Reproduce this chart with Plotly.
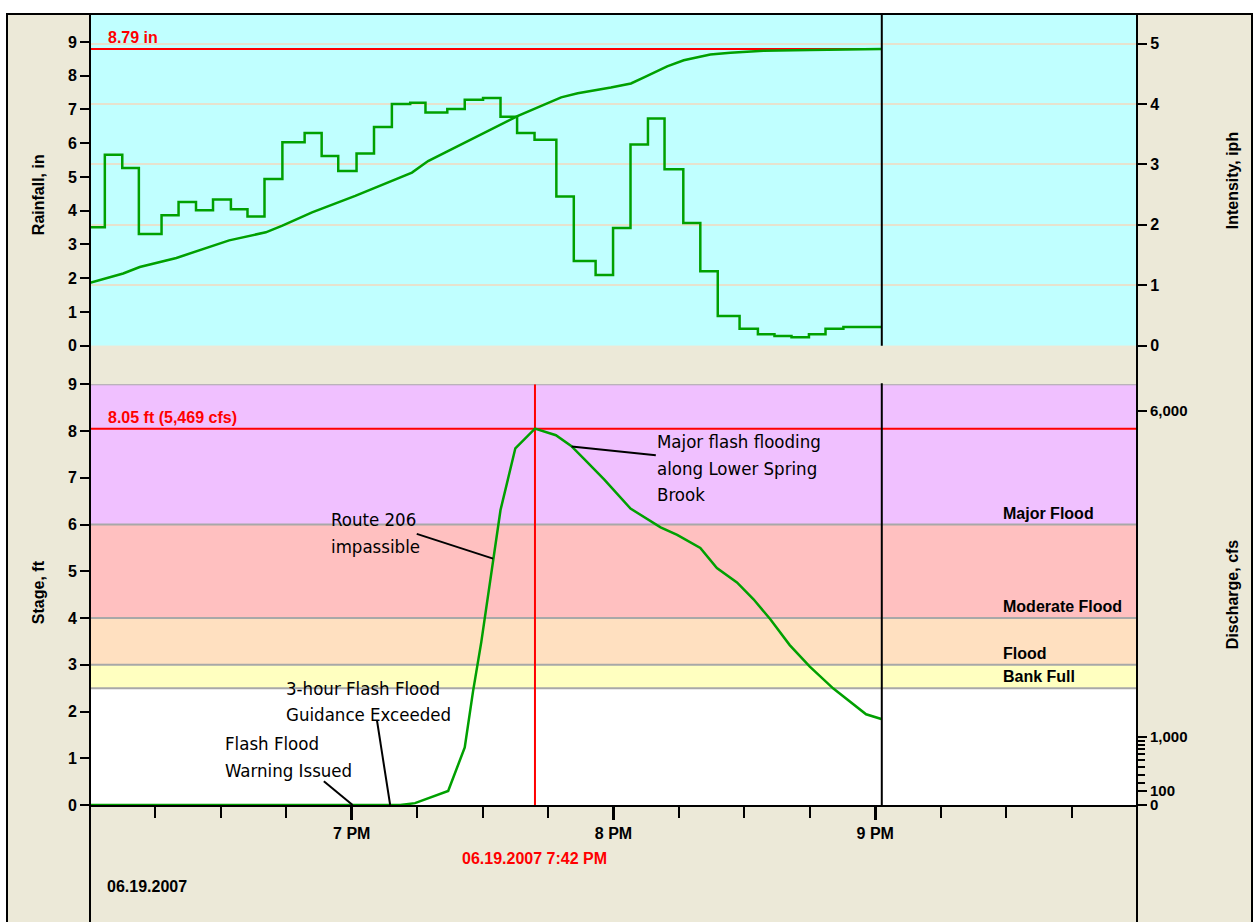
"""Spring Brook flash flood, 06.19.2007 — rainfall and stage hydrograph."""

import pandas as pd
import plotly.graph_objects as go

BASE = pd.Timestamp("2007-06-19 18:00")
X_END = pd.Timestamp("2007-06-19 22:00")

# rainfall intensity (iph), step series: start minute after 6 PM of each step
INTENSITY_MIN = [0, 3.4, 7.4, 11.2, 16.4, 20.3, 24.3, 28.2, 32.3, 36.1, 40.0,
                 44.1, 49.2, 53.1, 56.9, 61.1, 65.1, 69.2, 73.4, 76.9, 81.9,
                 85.9, 90.1, 94.1, 97.9, 101.9, 106.9, 110.9, 115.9, 119.9,
                 123.9, 127.9, 131.7, 136.0, 139.9, 143.9, 148.9, 153.1,
                 156.9, 160.8, 164.8, 168.6, 172.7]
INTENSITY_IPH = [1.96, 3.16, 2.94, 1.85, 2.16, 2.38, 2.24, 2.42, 2.26, 2.14,
                 2.76, 3.37, 3.52, 3.14, 2.89, 3.18, 3.62, 4.00, 4.02, 3.86,
                 3.92, 4.07, 4.10, 3.79, 3.52, 3.41, 2.47, 1.40, 1.17, 1.95,
                 3.33, 3.76, 2.92, 2.03, 1.23, 0.49, 0.28, 0.19, 0.16, 0.14,
                 0.19, 0.28, 0.31]

# cumulative rainfall (in)
CUM_MIN = [0, 7.6, 11.4, 19.8, 31.9, 40.3, 44.1, 50.9, 60.8, 73.8, 77.5, 89.0,
           93.5, 98.1, 108.0, 111.8, 119.4, 124.0, 127.0, 132.3, 136.1, 142.2,
           146.8, 154.4, 165.0, 179.5, 181.5]
CUM_IN = [1.86, 2.14, 2.33, 2.60, 3.12, 3.36, 3.56, 3.95, 4.44, 5.13, 5.47,
          6.23, 6.52, 6.81, 7.36, 7.48, 7.65, 7.77, 7.95, 8.28, 8.46, 8.63,
          8.68, 8.74, 8.76, 8.79, 8.79]

# river stage (ft)
STAGE_MIN = [0, 71.1, 74.5, 82.1, 85.9, 87.8, 89.7, 91.3, 92.4, 94.1, 97.5,
             102.0, 106.8, 110.3, 113.3, 117.9, 123.9, 130.8, 134.6, 139.9,
             143.7, 148.3, 152.1, 155.9, 160.4, 165.0, 170.4, 175.7, 177.9,
             181.4]
STAGE_FT = [0.0, 0.0, 0.04, 0.30, 1.23, 2.43, 3.49, 4.55, 5.25, 6.31, 7.63,
            8.05, 7.91, 7.68, 7.40, 6.96, 6.34, 5.94, 5.78, 5.50, 5.07, 4.76,
            4.40, 3.98, 3.42, 2.96, 2.49, 2.10, 1.94, 1.84]

DATA_END_MIN = 181.5
PEAK_MIN = 102
PEAK_STAGE = 8.05
PEAK_CFS = 5469
TOTAL_RAIN = 8.79

# flood categories (ft)
FLOOD_LEVELS = [0, 2.5, 3, 4, 6, 9]
FLOOD_COLORS = ["#FFFFFF", "#FFFFC0", "#FFE0C0", "#FFC0C0", "#F0C0FF"]
FLOOD_LABELS = ["", "Bank Full", "Flood", "Moderate Flood", "Major Flood"]

# rating curve: discharge (cfs) vs stage (ft), used for the right axis
RATING_CFS = [0, 100, 1000, 6000]
RATING_STAGE = [0, 0.30, 1.46, 8.43]
RATING_MINOR_CFS = [200, 300, 400, 500, 600, 700, 800, 900]
RATING_MINOR_STAGE = [0.47, 0.65, 0.82, 0.96, 1.09, 1.20, 1.29, 1.37]

# callouts: text lines, text position (minute, stage per line), pointer
CALLOUTS = [
    (["Major flash flooding", "along Lower Spring", "Brook"], 129.6,
     [7.77, 7.20, 6.65], (110.4, 7.67, 129.7, 7.48)),
    (["Route 206", "impassible"], 54.8, [6.11, 5.54], (74.9, 5.80, 92.4, 5.27)),
    (["3-hour Flash Flood", "Guidance Exceeded"], 44.5, [2.49, 1.93],
     (65.8, 1.80, 68.8, 0.0)),
    (["Flash Flood", "Warning Issued"], 30.6, [1.32, 0.74],
     (53.6, 0.51, 60.2, 0.0)),
]

BEIGE = "#ECE9D8"
GREEN = "#00A000"
RED = "#FF0000"
BOLD = dict(family="Liberation Sans, Arial, sans-serif", size=16, color="black",
            weight="bold")
CALLOUT_FONT = dict(family="DejaVu Sans Condensed, DejaVu Sans, sans-serif",
                    size=18.5, color="black")

# plot-area geometry (px)
W, H = 1256, 922
L, R, T, B = 90, 119, 7, 117


def t(minutes):
    return BASE + pd.to_timedelta(minutes, unit="min")


def py(pixel_y):
    """pixel row -> paper y."""
    return (H - B - pixel_y) / (H - T - B)


def px(pixel_x):
    """pixel column -> paper x."""
    return (pixel_x - L) / (W - L - R)


def build() -> go.Figure:
    fig = go.Figure()
    end = t(DATA_END_MIN)

    # --- top panel: rainfall
    fig.add_trace(go.Scatter(
        x=[BASE, end], y=[TOTAL_RAIN, TOTAL_RAIN], mode="lines",
        line={"color": RED, "width": 2}, xaxis="x2", yaxis="y3",
    ))
    fig.add_trace(go.Scatter(
        x=t(INTENSITY_MIN + [DATA_END_MIN]),
        y=INTENSITY_IPH + [INTENSITY_IPH[-1]],
        mode="lines", line={"color": GREEN, "width": 2.5, "shape": "hv"},
        xaxis="x2", yaxis="y4",
    ))
    fig.add_trace(go.Scatter(
        x=t(CUM_MIN), y=CUM_IN, mode="lines",
        line={"color": GREEN, "width": 2.5}, xaxis="x2", yaxis="y3",
    ))

    # --- bottom panel: stage
    fig.add_trace(go.Scatter(
        x=[BASE, X_END], y=[PEAK_STAGE, PEAK_STAGE], mode="lines",
        line={"color": RED, "width": 2}, xaxis="x", yaxis="y",
    ))
    fig.add_trace(go.Scatter(
        x=[t(PEAK_MIN), t(PEAK_MIN)], y=[0, FLOOD_LEVELS[-1]], mode="lines",
        line={"color": RED, "width": 2}, xaxis="x", yaxis="y",
    ))
    fig.add_trace(go.Scatter(
        x=t(STAGE_MIN), y=STAGE_FT, mode="lines",
        line={"color": GREEN, "width": 2.5}, xaxis="x", yaxis="y",
    ))
    # keeps the discharge axis alive
    fig.add_trace(go.Scatter(
        x=[BASE], y=[0], mode="markers", marker={"opacity": 0},
        xaxis="x", yaxis="y2",
    ))

    shapes = []
    # outer frame
    shapes.append(dict(type="rect", xref="paper", yref="paper",
                       x0=px(7), x1=px(1252), y0=py(960), y1=py(6),
                       fillcolor=BEIGE, line={"color": "black", "width": 2},
                       layer="below"))
    # panel backgrounds
    shapes.append(dict(type="rect", xref="x2", yref="y3", x0=BASE, x1=X_END,
                       y0=0, y1=9.8, fillcolor="#C0FFFF", line_width=0,
                       layer="below"))
    for lo, hi, color in zip(FLOOD_LEVELS[:-1], FLOOD_LEVELS[1:], FLOOD_COLORS):
        shapes.append(dict(type="rect", xref="x", yref="y", x0=BASE, x1=X_END,
                           y0=lo, y1=hi, fillcolor=color, line_width=0,
                           layer="below"))
    for lvl in FLOOD_LEVELS[1:]:
        shapes.append(dict(type="line", xref="x", yref="y", x0=BASE, x1=X_END,
                           y0=lvl, y1=lvl, line={"color": "#A8A8A8", "width": 2},
                           layer="below"))
    # end of data
    shapes.append(dict(type="line", xref="x", yref="paper", x0=end, x1=end,
                       y0=py(379), y1=py(805),
                       line={"color": "black", "width": 2}))
    shapes.append(dict(type="line", xref="x", yref="paper", x0=end, x1=end,
                       y0=py(341), y1=py(7),
                       line={"color": "black", "width": 2}))
    # full-height axis rails
    for xp in (0, 1):
        shapes.append(dict(type="line", xref="paper", yref="paper",
                           x0=xp, x1=xp, y0=py(960), y1=py(6),
                           line={"color": "black", "width": 2}))
    # callout pointers
    for _, _, _, (m0, s0, m1, s1) in CALLOUTS:
        shapes.append(dict(type="line", xref="x", yref="y",
                           x0=t(m0), y0=s0, x1=t(m1), y1=s1,
                           line={"color": "black", "width": 2}))

    ann = []
    for lines, m, stages, _ in CALLOUTS:
        for text, s in zip(lines, stages):
            ann.append(dict(x=t(m), y=s, xref="x", yref="y", text=text,
                            xanchor="left", yanchor="middle", showarrow=False,
                            font=CALLOUT_FONT))
    for lo, label in zip(FLOOD_LEVELS[:-1], FLOOD_LABELS):
        if label:
            ann.append(dict(x=px(1001), y=lo, xref="paper", yref="y",
                            text=label, xanchor="left", yanchor="bottom",
                            yshift=1, showarrow=False, font=BOLD))

    red_font = dict(BOLD, color=RED)
    ann += [
        dict(x=px(106), y=py(30), xref="paper", yref="paper",
             text=f"{TOTAL_RAIN:.2f} in", xanchor="left", yanchor="middle",
             showarrow=False, font=red_font),
        dict(x=px(106), y=py(414), xref="paper", yref="paper",
             text=f"{PEAK_STAGE:.2f} ft ({PEAK_CFS:,} cfs)", xanchor="left",
             yanchor="middle", showarrow=False, font=red_font),
        dict(x=t(PEAK_MIN), y=py(859), xref="x", yref="paper",
             text="06.19.2007 7:42 PM", xanchor="center", yanchor="middle",
             showarrow=False, font=red_font),
        dict(x=px(105), y=py(887), xref="paper", yref="paper",
             text="06.19.2007", xanchor="left", yanchor="middle",
             showarrow=False, font=BOLD),
    ]
    for text, xpix, ypix in [("Rainfall, in", 38, 189), ("Stage, ft", 38, 590),
                             ("Intensity, iph", 1232, 175),
                             ("Discharge, cfs", 1232, 593)]:
        ann.append(dict(x=px(xpix), y=py(ypix), xref="paper", yref="paper",
                        text=text, textangle=-90, xanchor="center",
                        yanchor="middle", showarrow=False, font=BOLD))

    ax = dict(ticks="outside", tickcolor="black", tickwidth=2, ticklen=9,
              tickfont=BOLD, showgrid=False, zeroline=False, showline=False,
              fixedrange=True)

    fig.update_layout(
        width=W, height=H,
        margin={"l": L, "r": R, "t": T, "b": B},
        paper_bgcolor="white", plot_bgcolor="rgba(0,0,0,0)",
        showlegend=False, hovermode=False,
        shapes=shapes, annotations=ann,
        xaxis=dict(ax, domain=[0, 1], anchor="y", type="date",
                   range=[BASE, X_END], tickmode="array",
                   tickvals=[t(60), t(120), t(180)],
                   ticktext=["7 PM", "8 PM", "9 PM"],
                   ticklen=13, tickwidth=3, showline=True, linecolor="black",
                   linewidth=2,
                   minor=dict(dtick=15 * 60 * 1000, tick0=BASE, ticks="outside",
                              ticklen=11, tickwidth=2, tickcolor="black")),
        xaxis2=dict(ax, domain=[0, 1], anchor="y3", type="date", matches="x",
                    range=[BASE, X_END], ticks="", showticklabels=False),
        yaxis=dict(ax, domain=[0, py(380)], anchor="x", range=[0, 9],
                   dtick=1, tick0=0),
        yaxis2=dict(ax, overlaying="y", side="right", anchor="x", range=[0, 9],
                    tickmode="array", tickvals=RATING_STAGE,
                    ticktext=[f"{v:,}" for v in RATING_CFS],
                    tickfont=dict(BOLD, size=15),
                    minor=dict(tickmode="array", tickvals=RATING_MINOR_STAGE,
                               ticks="outside", ticklen=7, tickwidth=2,
                               tickcolor="black")),
        yaxis3=dict(ax, domain=[py(341), 1], anchor="x2", range=[0, 9.8],
                    dtick=1, tick0=0),
        yaxis4=dict(ax, overlaying="y3", side="right", anchor="x2",
                    range=[0, 5.475], dtick=1, tick0=0, showgrid=True,
                    gridcolor="#E6E2CE", gridwidth=2),
    )
    return fig


fig = build()
# the page's default body margin would shift the figure by 8 px
fig.write_html("out.html", config={"displayModeBar": False},
               post_script="document.body.style.margin = '0';")
